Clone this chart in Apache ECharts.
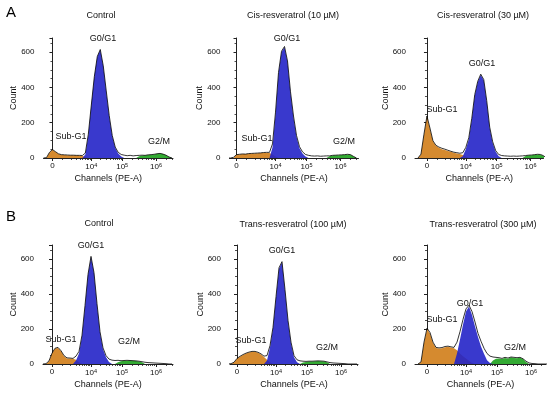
<!DOCTYPE html>
<html><head><meta charset="utf-8">
<script src="https://cdn.jsdelivr.net/npm/echarts@6/dist/echarts.min.js"></script>
<style>html,body{margin:0;padding:0;background:#fff}#c{width:550px;height:393px}</style>
</head><body><div id="c"></div>
<script>
const _ = null;
// Histogram bin positions on the display (biexponential) channel scale
const bins = [-9,-6,-3,0,3,6,9,12,15,18,21, 24,27,30,33,36,39,42,45,48,51,54, 57,60,63,66,69,72,75,78,81,84,87, 90,93,96,99,102,105,108,111,114,117,120];
// Tick positions of 0, 10^4, 10^5, 10^6 on the display scale
const tickPos = [0, 39, 70, 104];
const tickExp = [0, 4, 5, 6];
const yTicks = [0, 200, 400, 600];
const titles = ['Control', 'Cis-resveratrol (10 µM)', 'Cis-resveratrol (30 µM)', 'Control', 'Trans-resveratrol (100 µM)', 'Trans-resveratrol (300 µM)'];
const phaseNames = ['Sub-G1', 'G0/G1', 'G2/M'];

// ---- Panel A1: Control
const subA1 = [_,0,30,45,35,22,18,17,16,16,15, 15,14,12,5,0,_,_,_,_,_,_, _,_,_,_,_,_,_,_,_,_,_, _,_,_,_,_,_,_,_,_,_,_];
const g1A1  = [_,_,_,_,_,_,_,_,_,_,_, _,_,0,20,130,300,460,575,612,520,375, 235,125,58,25,8,0,_,_,_,_,_, _,_,_,_,_,_,_,_,_,_,_];
const g2A1  = [_,_,_,_,_,_,_,_,_,_,_, _,_,_,_,_,_,_,_,_,_,_, _,_,_,_,_,_,_,_,_,0,10, 14,15,17,18,20,24,25,22,15,5,0];
const totA1 = [0,2,32,48,36,24,19,18,17,16,16, 15,15,14,28,135,300,460,575,615,522,380, 240,128,62,32,20,16,13,15,12,14,15, 16,15,18,19,21,24,26,22,16,6,0];
// ---- Panel A2: Cis-resveratrol 10 µM
const subA2 = [_,_,0,18,20,22,22,24,25,26,27, 28,30,30,28,20,8,0,_,_,_,_, _,_,_,_,_,_,_,_,_,_,_, _,_,_,_,_,_,_,_,_,_,_];
const g1A2  = [_,_,_,_,_,_,_,_,_,_,_, _,_,_,0,60,250,480,600,628,545,370, 230,120,55,26,8,0,_,_,_,_,_, _,_,_,_,_,_,_,_,_,_,_];
const g2A2  = [_,_,_,_,_,_,_,_,_,_,_, _,_,_,_,_,_,_,_,_,_,_, _,_,_,_,_,_,_,_,_,_,_, 0,10,14,15,16,17,18,20,18,8,0];
const totA2 = [0,0,4,19,21,23,22,25,26,27,28, 29,31,32,32,80,260,485,605,632,550,375, 238,128,64,35,20,15,12,11,12,10,11, 12,12,15,16,17,18,19,21,19,9,0];
// ---- Panel A3: Cis-resveratrol 30 µM
const subA3 = [0,20,130,235,165,95,70,58,50,45,40, 35,30,26,22,17,8,0,_,_,_,_, _,_,_,_,_,_,_,_,_,_,_, _,_,_,_,_,_,_,_,_,_,_];
const g1A3  = [_,_,_,_,_,_,_,_,_,_,_, _,_,_,0,10,50,105,220,355,430,470, 440,320,170,85,35,10,0,_,_,_,_, _,_,_,_,_,_,_,_,_,_,_];
const g2A3  = [_,_,_,_,_,_,_,_,_,_,_, _,_,_,_,_,_,_,_,_,_,_, _,_,_,_,_,_,_,_,_,_,_, _,_,0,12,15,16,18,20,19,12,0];
const totA3 = [0,22,135,238,170,98,72,62,55,50,44, 38,33,30,27,30,60,115,225,360,435,475, 445,325,175,92,42,20,14,12,11,10,11, 10,11,12,14,16,17,19,21,20,13,0];
// ---- Panel B1: Control
const subB1 = [_,0,15,60,88,92,75,45,32,32,30, 24,10,0,_,_,_,_,_,_,_,_, _,_,_,_,_,_,_,_,_,_,_, _,_,_,_,_,_,_,_,_,_,_];
const g1B1  = [_,_,_,_,_,_,_,_,_,_,0, 20,60,160,330,510,612,520,340,180,85,38, 12,0,_,_,_,_,_,_,_,_,_, _,_,_,_,_,_,_,_,_,_,_];
const g2B1  = [_,_,_,_,_,_,_,_,_,_,_, _,_,_,_,_,_,_,_,_,_,_, _,_,0,10,16,18,19,20,18,17,15, 10,0,_,_,_,_,_,_,_,_,_];
const totB1 = [0,2,18,62,90,95,76,48,35,34,32, 45,72,165,335,512,615,522,345,185,92,48, 28,22,20,21,19,20,21,20,19,18,16, 13,10,8,7,6,5,4,3,2,0,0];
// ---- Panel B2: Trans-resveratrol 100 µM
const subB2 = [_,0,8,30,42,52,60,66,70,70,65, 55,40,25,10,0,_,_,_,_,_,_, _,_,_,_,_,_,_,_,_,_,_, _,_,_,_,_,_,_,_,_,_,_];
const g1B2  = [_,_,_,_,_,_,_,_,_,_,_, _,0,20,95,204,380,545,582,420,243,118, 38,10,0,_,_,_,_,_,_,_,_, _,_,_,_,_,_,_,_,_,_,_];
const g2B2  = [_,_,_,_,_,_,_,_,_,_,_, _,_,_,_,_,_,_,_,_,_,_, _,_,0,8,12,14,15,16,17,16,15, 10,0,_,_,_,_,_,_,_,_,_];
const totB2 = [0,2,10,32,44,54,62,68,72,72,67, 58,45,48,105,210,385,550,585,425,250,125, 48,24,18,16,15,16,16,17,18,17,16, 12,8,6,5,4,3,2,0,0,0,0];
// ---- Panel B3: Trans-resveratrol 300 µM
const subB3 = [0,10,120,200,175,120,92,88,90,96,98, 95,90,78,60,45,32,18,6,0,_,_, _,_,_,_,_,_,_,_,_,_,_, _,_,_,_,_,_,_,_,_,_,_];
const g1B3  = [_,_,_,_,_,_,_,_,_,_,_, _,0,60,140,225,300,328,280,215,155,100, 58,22,6,0,_,_,_,_,_,_,_, _,_,_,_,_,_,_,_,_,_,_];
const g2B3  = [_,_,_,_,_,_,_,_,_,_,_, _,_,_,_,_,_,_,_,_,_,_, _,_,0,20,30,32,28,35,30,38,35, 33,36,28,12,0,_,_,_,_,_,_];
const totB3 = [0,12,125,205,180,125,95,92,94,100,102, 98,95,125,185,255,315,336,300,240,175,130, 90,60,45,40,38,36,32,38,34,40,38, 36,38,30,16,6,3,2,0,0,0,0];

const panelData = [
  [subA1, g1A1, g2A1, totA1], [subA2, g1A2, g2A2, totA2], [subA3, g1A3, g2A3, totA3],
  [subB1, g1B1, g2B1, totB1], [subB2, g1B2, g2B2, totB2], [subB3, g1B3, g2B3, totB3]
];

// ---- Layout (pixels)
const layout = [
  {left: 43.5, top: 38, width: 129.5, height: 120, xmin: -9, xmax: 121, title: [101, 16], lab: [[71, 137], [103, 39], [159, 141.5]]},
  {left: 229.5, top: 38, width: 129, height: 120, xmin: -7, xmax: 122, title: [293, 16], lab: [[257, 138.5], [287, 38.5], [344, 142]]},
  {left: 415, top: 38, width: 128.5, height: 120, xmin: -12, xmax: 117, title: [483, 16], lab: [[442, 110], [482, 64], null]},
  {left: 43, top: 245, width: 130, height: 119, xmin: -9, xmax: 121, title: [99, 223.5], lab: [[61, 339.5], [91, 246], [129, 342]]},
  {left: 230, top: 245, width: 128, height: 119, xmin: -7, xmax: 121, title: [293, 225], lab: [[251, 341], [282, 251], [327, 348]]},
  {left: 415, top: 245, width: 131, height: 119, xmin: -12, xmax: 119, title: [483, 225], lab: [[442, 320], [470, 303.5], [515, 347.5]]}
];

const FONT = '"Liberation Sans", Arial, sans-serif';
const TXT = '#111';
const colors = {sub: '#d58a2f', g1: '#2424c8', g2: '#33aa33', line: '#000'};

// minor log ticks on the channel axis
const minorPos = [];
for (let k = 1; k <= 9; k++) minorPos.push(39 + 29 * Math.log10(k / 10));
for (let k = 2; k <= 9; k++) minorPos.push(39 + 31 * Math.log10(k));
for (let k = 2; k <= 9; k++) minorPos.push(70 + 34 * Math.log10(k));
for (let k = 2; k <= 4; k++) minorPos.push(104 + 34 * Math.log10(k));

const grids = [], xAxes = [], yAxes = [], series = [], graphics = [];
layout.forEach((L, p) => {
  grids.push({left: L.left, top: L.top, width: L.width, height: L.height, containLabel: false});
  xAxes.push({
    type: 'value', gridIndex: p, min: L.xmin, max: L.xmax,
    splitLine: {show: false},
    axisLine: {lineStyle: {color: '#222', width: 1}},
    axisTick: {customValues: tickPos, length: 3, lineStyle: {color: '#222'}},
    axisLabel: {
      customValues: tickPos, margin: 4, color: TXT, fontFamily: FONT, fontSize: 8,
      formatter: v => { const i = tickPos.indexOf(v); return tickExp[i] === 0 ? '{b|0}' : '{b|10}{s|' + tickExp[i] + '}'; },
      rich: {b: {fontSize: 8, fontFamily: FONT, color: TXT}, s: {fontSize: 5.5, fontFamily: FONT, color: TXT, verticalAlign: 'top', padding: [0, 0, 4, 0]}}
    },
    name: 'Channels (PE-A)', nameLocation: 'middle', nameGap: 16,
    nameTextStyle: {fontFamily: FONT, fontSize: 9, color: TXT}
  });
  xAxes.push({
    type: 'value', gridIndex: p, min: L.xmin, max: L.xmax, position: 'bottom',
    splitLine: {show: false}, axisLine: {show: false}, axisLabel: {show: false},
    axisTick: {customValues: minorPos, length: 2, lineStyle: {color: '#222', width: 0.8}}
  });
  yAxes.push({
    type: 'value', gridIndex: p, min: 0, max: 680, interval: 200,
    splitLine: {show: false},
    axisLine: {show: true, lineStyle: {color: '#222', width: 1}},
    axisTick: {show: true, length: 3, lineStyle: {color: '#222'}},
    minorTick: {show: true, splitNumber: 4, length: 2, lineStyle: {color: '#222', width: 0.8}},
    axisLabel: {margin: 9, fontFamily: FONT, fontSize: 8, color: TXT, showMaxLabel: false},
    name: 'Count', nameLocation: 'middle', nameRotate: 90, nameGap: 25, nameMoveOverlap: false,
    nameTextStyle: {fontFamily: FONT, fontSize: 9, color: TXT}
  });
  const [sub, g1, g2, tot] = panelData[p];
  const mk = arr => bins.map((x, i) => [x, arr[i]]);
  const area = (name, arr, color, op, z) => ({
    type: 'line', name, xAxisIndex: 2 * p, yAxisIndex: p, data: mk(arr), showSymbol: false, symbol: 'none',
    lineStyle: {width: 0}, areaStyle: {color, opacity: op}, silent: true, z, animation: false
  });
  series.push(area('Sub-G1', sub, colors.sub, 1, 2));
  series.push(area('G2/M', g2, colors.g2, 1, 2));
  series.push(area('G0/G1', g1, colors.g1, 0.9, 3));
  series.push({type: 'line', name: 'Total', xAxisIndex: 2 * p, yAxisIndex: p, data: mk(tot), showSymbol: false, symbol: 'none',
    lineStyle: {width: 0.8, color: colors.line}, silent: true, z: 4, animation: false});
  graphics.push({type: 'text', style: {text: titles[p], x: L.title[0], y: L.title[1], align: 'center', verticalAlign: 'middle', textAlign: 'center', textVerticalAlign: 'middle', font: '9px ' + FONT, fill: TXT}});
  L.lab.forEach((pos, k) => {
    if (!pos) return;
    graphics.push({type: 'text', style: {text: phaseNames[k], x: pos[0], y: pos[1], align: 'center', verticalAlign: 'middle', textAlign: 'center', textVerticalAlign: 'middle', font: '9px ' + FONT, fill: TXT}});
  });
});
graphics.push({type: 'text', style: {text: 'A', x: 11, y: 13, align: 'center', verticalAlign: 'middle', textAlign: 'center', textVerticalAlign: 'middle', font: '15px ' + FONT, fill: '#000'}});
graphics.push({type: 'text', style: {text: 'B', x: 11, y: 217, align: 'center', verticalAlign: 'middle', textAlign: 'center', textVerticalAlign: 'middle', font: '15px ' + FONT, fill: '#000'}});

const chart = echarts.init(document.getElementById('c'), null, {renderer: 'canvas'});
chart.setOption({
  animation: false, backgroundColor: '#fff',
  grid: grids, xAxis: xAxes, yAxis: yAxes, series, graphic: {elements: graphics}
});
</script></body></html>
